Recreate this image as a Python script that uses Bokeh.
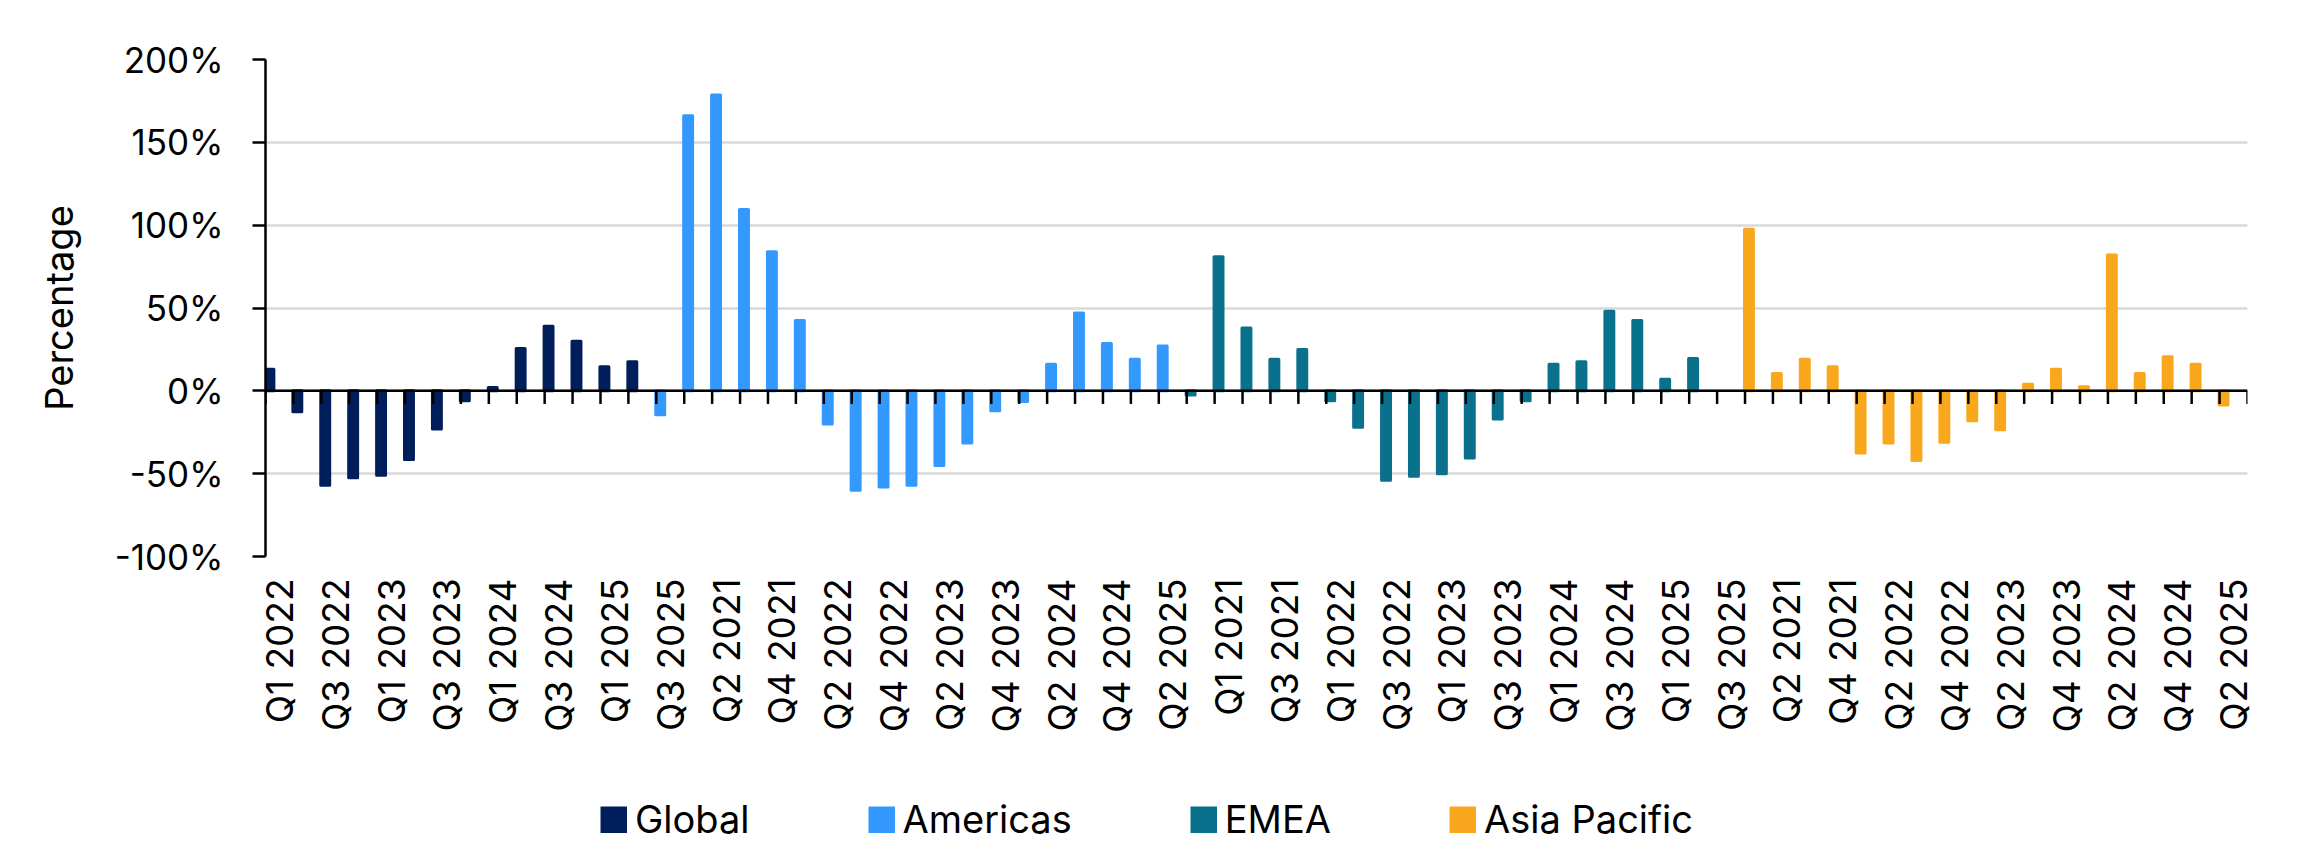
import math
from bokeh.plotting import figure
from bokeh.layouts import column
from bokeh.models import (ColumnDataSource, Range1d, FixedTicker, SingleIntervalTicker,
                          PrintfTickFormatter, Span, Legend, LegendItem)
from bokeh.embed import file_html
from bokeh.resources import INLINE

FONT = "Inter"

# ---------------- data ----------------
regions = ["Global", "Americas", "EMEA", "Asia Pacific"]
region_colours = ["#001E5A", "#3399FF", "#0A718D", "#F9A81E"]

global_quarters = ["Q1 2022", "Q2 2022", "Q3 2022", "Q4 2022", "Q1 2023", "Q2 2023", "Q3 2023",
                   "Q4 2023", "Q1 2024", "Q2 2024", "Q3 2024", "Q4 2024", "Q1 2025", "Q2 2025",
                   "Q3 2025"]
global_values = [13, -12.7, -57, -52.5, -51, -41.5, -23, -6, 2, 25.5, 39, 30, 14.5, 17.5, -14.5]

americas_quarters = ["Q1 2021", "Q2 2021", "Q3 2021", "Q4 2021", "Q1 2022", "Q2 2022", "Q3 2022",
                     "Q4 2022", "Q1 2023", "Q2 2023", "Q3 2023", "Q4 2023", "Q1 2024", "Q2 2024",
                     "Q3 2024", "Q4 2024", "Q1 2025", "Q2 2025", "Q3 2025"]
americas_values = [166, 178.5, 109.5, 84, 42.5, -20, -60, -58, -57, -45, -31.5, -12, -6.5,
                   16, 47, 28.5, 19, 27, -2.5]

emea_quarters = ["Q1 2021", "Q2 2021", "Q3 2021", "Q4 2021", "Q1 2022", "Q2 2022", "Q3 2022",
                 "Q4 2022", "Q1 2023", "Q2 2023", "Q3 2023", "Q4 2023", "Q1 2024", "Q2 2024",
                 "Q3 2024", "Q4 2024", "Q1 2025", "Q2 2025", "Q3 2025"]
emea_values = [81, 38, 19, 25, -6, -22, -54, -51.5, -50, -40.5, -17, -6, 16, 17.5,
               48, 42.5, 7, 19.5, None]

apac_quarters = ["Q1 2021", "Q2 2021", "Q3 2021", "Q4 2021", "Q1 2022", "Q2 2022", "Q3 2022",
                 "Q4 2022", "Q1 2023", "Q2 2023", "Q3 2023", "Q4 2023", "Q1 2024", "Q2 2024",
                 "Q3 2024", "Q4 2024", "Q1 2025", "Q2 2025"]
apac_values = [97.5, 10.5, 19, 14.5, -37.5, -31.5, -42, -31, -18, -23.5, 4, 13, 2.5,
               82, 10.5, 20.5, 16, -8.5]

series_quarters = [global_quarters, americas_quarters, emea_quarters, apac_quarters]
series_values = [global_values, americas_values, emea_values, apac_values]

# ---------------- main chart ----------------
all_quarters = [q for qs in series_quarters for q in qs]
n_cat = len(all_quarters)

p = figure(width=2310, height=790, output_backend="svg", toolbar_location=None,
           x_range=Range1d(-0.5, n_cat - 0.5), y_range=Range1d(-100, 200),
           min_border_left=265, min_border_right=63, min_border_top=59, min_border_bottom=234)
p.outline_line_color = None
p.background_fill_color = "white"
p.border_fill_color = "white"

BAR_OFFSET = -0.36
BAR_WIDTH = 0.32

idx = 0
for i, (name, qs, vals) in enumerate(zip(regions, series_quarters, series_values)):
    xs, tops, cols = [], [], []
    for q, v in zip(qs, vals):
        if v is not None:
            xs.append(idx + BAR_OFFSET)
            tops.append(v)
            # in the source chart each region's Q3 2025 bar carries the next region's colour
            if q == "Q3 2025" and i + 1 < len(region_colours):
                cols.append(region_colours[i + 1])
            else:
                cols.append(region_colours[i])
        idx += 1
    src = ColumnDataSource(dict(x=xs, top=tops, color=cols))
    p.vbar(x="x", top="top", bottom=0, width=BAR_WIDTH, source=src,
           fill_color="color", line_color="color", line_width=3, line_join="round")

# zero line with category boundary ticks
p.add_layout(Span(location=0, dimension="width", line_color="black", line_width=2.5))
bounds = [k - 0.5 for k in range(n_cat + 1)]
p.segment(x0=bounds, y0=[0] * len(bounds), x1=bounds, y1=[-7.9] * len(bounds),
          line_color="black", line_width=2.5)

# y axis
p.yaxis.ticker = SingleIntervalTicker(interval=50)
p.yaxis.formatter = PrintfTickFormatter(format="%d%%")
p.yaxis.axis_label = "Percentage"
p.yaxis.axis_label_text_font = FONT
p.yaxis.axis_label_text_font_size = "38px"
p.yaxis.axis_label_text_font_style = "normal"
p.yaxis.axis_label_text_color = "black"
p.yaxis.axis_label_standoff = 30
p.yaxis.major_label_text_font = FONT
p.yaxis.major_label_text_font_size = "35px"
p.yaxis.major_label_text_color = "black"
p.yaxis.major_label_standoff = 29
p.yaxis.major_tick_out = 13
p.yaxis.major_tick_in = 0
p.yaxis.minor_tick_line_color = None
p.yaxis.axis_line_color = "black"
p.yaxis.axis_line_width = 2.5
p.yaxis.major_tick_line_color = "black"
p.yaxis.major_tick_line_width = 2.5

p.ygrid.grid_line_color = "#D9D9D9"
p.ygrid.grid_line_width = 2.5
p.xgrid.grid_line_color = None

# x axis: every other quarter labelled
tick_idx = list(range(0, n_cat, 2))
p.xaxis.ticker = FixedTicker(ticks=tick_idx)
p.xaxis.major_label_overrides = {k: all_quarters[k] for k in tick_idx}
p.xaxis.major_label_orientation = math.pi / 2
p.xaxis.major_label_text_font = FONT
p.xaxis.major_label_text_font_size = "37px"
p.xaxis.major_label_text_color = "black"
p.xaxis.major_label_standoff = 22
p.xaxis.axis_line_color = None
p.xaxis.major_tick_line_color = None
p.xaxis.minor_tick_line_color = None
p.xaxis.major_tick_out = 0

# ---------------- legend strip ----------------
leg = figure(width=2310, height=68, output_backend="svg", toolbar_location=None,
             x_range=Range1d(0, 1), y_range=Range1d(0, 1), min_border=0)
leg.outline_line_color = None
leg.axis.visible = False
leg.grid.visible = False
items = []
for name, col in zip(regions, region_colours):
    # swatch-only renderer: a zero-length, butt-capped line that draws nothing itself;
    # its legend glyph is a thick line segment, i.e. a square swatch
    r = leg.line(x=[0.5, 0.5], y=[0.5, 0.5], line_color=col, line_width=27, line_cap="butt")
    items.append(LegendItem(label=name, renderers=[r]))

legend = Legend(items=items, orientation="horizontal", location=(335, 16),
                label_text_font=FONT, label_text_font_size="38px", label_text_color="black",
                glyph_width=27, glyph_height=27, label_standoff=8, spacing=118,
                padding=0, margin=0, border_line_color=None, background_fill_alpha=0)
leg.add_layout(legend)

open("out.html", "w").write(file_html(column(p, leg), INLINE))
